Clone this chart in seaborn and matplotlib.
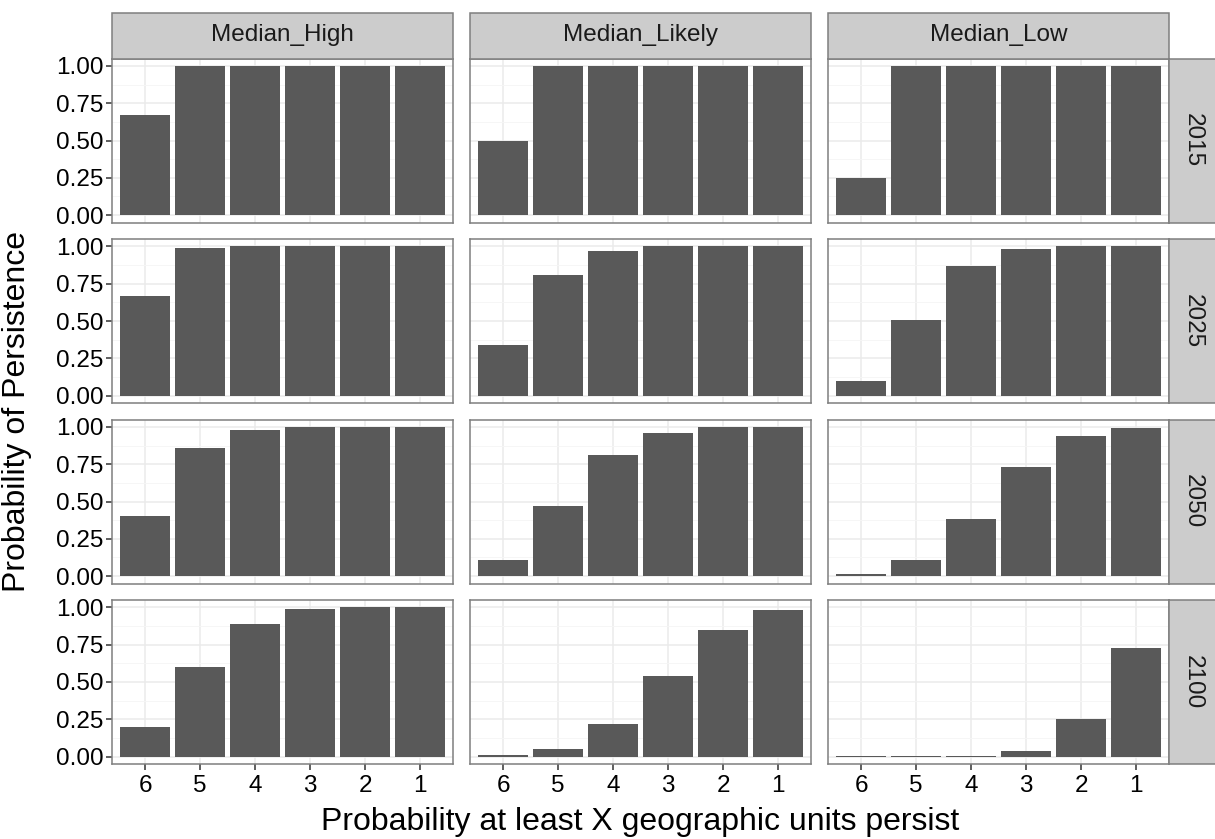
import numpy as np
import pandas as pd
import matplotlib
matplotlib.use("Agg")
import matplotlib.pyplot as plt
import seaborn as sns
from matplotlib.patches import Rectangle

# Data
units = ["6", "5", "4", "3", "2", "1"]
scenarios = ["Median_High", "Median_Likely", "Median_Low"]
years = ["2015", "2025", "2050", "2100"]

high_2015 = [0.67, 1.00, 1.00, 1.00, 1.00, 1.00]
likely_2015 = [0.50, 1.00, 1.00, 1.00, 1.00, 1.00]
low_2015 = [0.25, 1.00, 1.00, 1.00, 1.00, 1.00]

high_2025 = [0.67, 0.99, 1.00, 1.00, 1.00, 1.00]
likely_2025 = [0.34, 0.81, 0.97, 1.00, 1.00, 1.00]
low_2025 = [0.10, 0.51, 0.87, 0.98, 1.00, 1.00]

high_2050 = [0.40, 0.86, 0.98, 1.00, 1.00, 1.00]
likely_2050 = [0.11, 0.47, 0.81, 0.96, 1.00, 1.00]
low_2050 = [0.012, 0.11, 0.38, 0.73, 0.94, 0.99]

high_2100 = [0.20, 0.60, 0.89, 0.99, 1.00, 1.00]
likely_2100 = [0.008, 0.05, 0.22, 0.54, 0.85, 0.98]
low_2100 = [0.007, 0.007, 0.007, 0.04, 0.25, 0.73]

values = {
    ("2015", "Median_High"): high_2015, ("2015", "Median_Likely"): likely_2015, ("2015", "Median_Low"): low_2015,
    ("2025", "Median_High"): high_2025, ("2025", "Median_Likely"): likely_2025, ("2025", "Median_Low"): low_2025,
    ("2050", "Median_High"): high_2050, ("2050", "Median_Likely"): likely_2050, ("2050", "Median_Low"): low_2050,
    ("2100", "Median_High"): high_2100, ("2100", "Median_Likely"): likely_2100, ("2100", "Median_Low"): low_2100,
}

rows = []
for (yr, sc), vals in values.items():
    for u, v in zip(units, vals):
        rows.append({"year": yr, "scenario": sc, "units": u, "prob": v})
df = pd.DataFrame(rows)

sns.set_style("white")
plt.rcParams['font.family'] = ['Liberation Sans', 'DejaVu Sans']
plt.rcParams['text.color'] = 'black'

fig = plt.figure(figsize=(12.15, 8.39), dpi=100)
W, H = 1215.0, 839.0

left0, pw, gap = 112, 341, 17
top0, ph, vgap = 58.5, 164, 16.5
strip_h = 46
strip_w = 47

bar_col = "#595959"
border = "#7f7f7f"
strip_fill = "#cccccc"

for i, yr in enumerate(years):
    for j, sc in enumerate(scenarios):
        x0 = left0 + j * (pw + gap)
        y0 = top0 + i * (ph + vgap)
        ax = fig.add_axes([x0 / W, 1 - (y0 + ph) / H, pw / W, ph / H])
        sub = df[(df.year == yr) & (df.scenario == sc)]
        sns.barplot(data=sub, x="units", y="prob", order=units, color=bar_col,
                    saturation=1, width=0.9, ax=ax, errorbar=None, linewidth=0, zorder=3)
        ax.set_xlim(-0.6, 5.6)
        ax.set_ylim(-0.05, 1.05)
        ax.set_yticks([0, 0.25, 0.5, 0.75, 1.0])
        ax.set_yticks([0.125, 0.375, 0.625, 0.875], minor=True)
        ax.grid(True, which='major', color='#ebebeb', lw=1.1, zorder=0)
        ax.grid(True, which='minor', axis='y', color='#f5f5f5', lw=0.6, zorder=0)
        ax.set_axisbelow(True)
        ax.set_xlabel("")
        ax.set_ylabel("")
        for s in ax.spines.values():
            s.set_color(border)
            s.set_linewidth(1.1)
        ax.tick_params(which='minor', length=0)
        if j == 0:
            ax.set_yticklabels(["0.00", "0.25", "0.50", "0.75", "1.00"])
            ax.tick_params(axis='y', which='major', length=4, width=1.1, color='#333333',
                           labelsize=17.5, labelcolor='black', pad=2, left=True)
        else:
            ax.tick_params(axis='y', which='major', length=0, labelleft=False)
        if i == len(years) - 1:
            ax.tick_params(axis='x', which='major', length=4, width=1.1, color='#333333',
                           labelsize=17.5, labelcolor='black', pad=4, bottom=True)
        else:
            ax.tick_params(axis='x', which='major', length=0, labelbottom=False)

        # column strips on top
        if i == 0:
            fig.patches.append(Rectangle((x0 / W, 1 - top0 / H), pw / W, strip_h / H,
                                         transform=fig.transFigure, facecolor=strip_fill,
                                         edgecolor=border, lw=1.1))
            fig.text((x0 + pw / 2) / W, 1 - (top0 - strip_h / 2) / H, sc,
                     ha='center', va='center', fontsize=17.5, color='#1a1a1a')
        # row strips on the right
        if j == len(scenarios) - 1:
            xs = x0 + pw
            fig.patches.append(Rectangle((xs / W, 1 - (y0 + ph) / H), strip_w / W, ph / H,
                                         transform=fig.transFigure, facecolor=strip_fill,
                                         edgecolor=border, lw=1.1))
            fig.text((xs + strip_w / 2) / W, 1 - (y0 + ph / 2) / H, yr, rotation=270,
                     ha='center', va='center', fontsize=17.5, color='#1a1a1a')

fig.text((left0 + (3 * pw + 2 * gap) / 2) / W, 1 - 822 / H,
         "Probability at least X geographic units persist",
         ha='center', va='center', fontsize=23, color='black')
fig.text(17 / W, 1 - (top0 + (4 * ph + 3 * vgap) / 2) / H, "Probability of Persistence",
         rotation=90, ha='center', va='center', fontsize=23, color='black')

fig.savefig("out.png", dpi=100, facecolor='white')
